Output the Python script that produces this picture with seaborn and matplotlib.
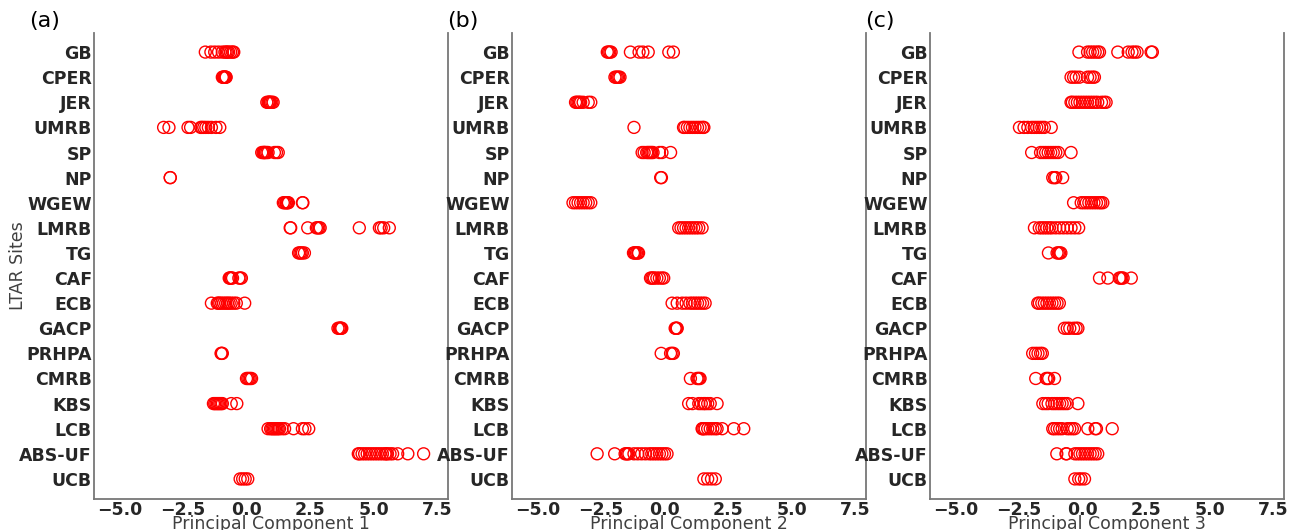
import matplotlib
matplotlib.use("Agg")
import matplotlib.pyplot as plt
import seaborn as sns
import pandas as pd

sites = ["GB", "CPER", "JER", "UMRB", "SP", "NP", "WGEW", "LMRB", "TG", "CAF",
         "ECB", "GACP", "PRHPA", "CMRB", "KBS", "LCB", "ABS-UF", "UCB"]

pc1_values = [
    [-1.62, -1.4, -1.25, -1.1, -0.95, -0.85, -0.8, -0.75, -0.7, -0.62, -0.55, -0.5],
    [-0.95, -0.92, -0.9, -0.88, -0.86, -0.84, -0.82, -0.8],
    [0.8, 0.85, 0.88, 0.9, 0.92, 0.95, 1.0, 1.05],
    [-3.26, -3.05, -2.3, -2.2, -1.8, -1.75, -1.68, -1.6, -1.5, -1.38, -1.2, -1.05],
    [0.6, 0.65, 0.68, 0.7, 0.72, 0.75, 0.8, 0.85, 1.1, 1.18, 1.25],
    [-3.0, -3.0],
    [1.45, 1.5, 1.55, 1.58, 1.62, 1.65, 2.2, 2.22],
    [1.72, 1.74, 2.41, 2.75, 2.8, 2.85, 2.9, 4.44, 5.23, 5.3, 5.4, 5.62],
    [2.05, 2.1, 2.15, 2.2, 2.28],
    [-0.68, -0.65, -0.62, -0.6, -0.55, -0.3, -0.25, -0.2],
    [-1.38, -1.15, -1.1, -1.05, -0.98, -0.9, -0.82, -0.75, -0.68, -0.6, -0.5, -0.4, -0.07],
    [3.6, 3.65, 3.68, 3.7, 3.72, 3.75],
    [-1.0, -0.98, -0.95],
    [0.0, 0.05, 0.1, 0.15, 0.2],
    [-1.3, -1.25, -1.2, -1.15, -1.1, -1.05, -1.0, -0.95, -0.6, -0.38],
    [0.85, 0.95, 1.0, 1.05, 1.1, 1.15, 1.2, 1.25, 1.3, 1.4, 1.5, 1.85, 2.2, 2.3, 2.45],
    [4.4, 4.45, 4.55, 4.65, 4.75, 4.85, 4.95, 5.05, 5.15, 5.25, 5.35, 5.45, 5.5, 5.55,
     5.65, 5.75, 5.95, 6.35, 6.97],
    [-0.25, -0.15, -0.05, 0.05],
]

pc2_values = [
    [-2.25, -2.2, -2.15, -2.1, -1.34, -1.0, -0.85, -0.64, 0.17, 0.35],
    [-1.95, -1.9, -1.85, -1.8, -1.75],
    [-3.5, -3.45, -3.4, -3.35, -3.3, -3.2, -3.0, -2.9],
    [-1.2, 0.75, 0.8, 0.9, 1.0, 1.1, 1.2, 1.3, 1.4, 1.5, 1.55],
    [-0.88, -0.8, -0.7, -0.65, -0.6, -0.55, -0.5, -0.45, -0.2, -0.1, 0.24],
    [-0.15, -0.12],
    [-3.6, -3.5, -3.4, -3.3, -3.2, -3.1, -3.0, -2.9],
    [0.56, 0.65, 0.75, 0.85, 0.95, 1.05, 1.15, 1.25, 1.35, 1.48],
    [-1.22, -1.18, -1.15, -1.1, -1.05, -1.02],
    [-0.55, -0.5, -0.45, -0.4, -0.3, -0.2, -0.1, -0.03],
    [0.3, 0.5, 0.7, 0.85, 1.0, 1.1, 1.2, 1.3, 1.4, 1.5, 1.6],
    [0.42, 0.45, 0.48, 0.5],
    [-0.13, 0.24, 0.3, 0.35],
    [1.02, 1.28, 1.32, 1.36, 1.4],
    [0.95, 1.1, 1.35, 1.45, 1.55, 1.6, 1.7, 1.8, 2.07],
    [1.48, 1.5, 1.55, 1.6, 1.7, 1.8, 1.9, 2.0, 2.07, 2.27, 2.73, 3.12],
    [-2.65, -1.96, -1.55, -1.5, -1.45, -1.4, -1.2, -1.05, -0.9, -0.75, -0.6, -0.5,
     -0.4, -0.3, -0.2, -0.1, 0.0, 0.1],
    [1.55, 1.7, 1.85, 2.0],
]

pc3_values = [
    [-0.14, 0.2, 0.3, 0.4, 0.5, 0.6, 0.67, 1.39, 1.8, 1.95, 2.05, 2.15, 2.7, 2.75],
    [-0.45, -0.35, -0.25, -0.12, 0.2, 0.3, 0.4, 0.47],
    [-0.45, -0.4, -0.3, -0.2, -0.1, 0.0, 0.1, 0.2, 0.3, 0.4, 0.5, 0.6, 0.75, 0.85, 0.93],
    [-2.48, -2.3, -2.15, -2.0, -1.9, -1.8, -1.7, -1.6, -1.5, -1.23],
    [-2.0, -1.65, -1.55, -1.45, -1.35, -1.25, -1.15, -1.05, -0.95, -0.45],
    [-1.17, -1.1, -1.05, -0.78],
    [-0.35, -0.05, 0.05, 0.15, 0.25, 0.35, 0.45, 0.55, 0.65, 0.72, 0.8],
    [-1.89, -1.7, -1.6, -1.5, -1.4, -1.3, -1.2, -1.05, -0.9, -0.75, -0.6, -0.45, -0.3, -0.15],
    [-1.34, -1.0, -0.95, -0.9, -0.85],
    [0.67, 1.0, 1.45, 1.5, 1.55, 1.6, 1.92],
    [-1.76, -1.7, -1.6, -1.5, -1.4, -1.3, -1.2, -1.1, -1.0, -0.91],
    [-0.71, -0.6, -0.5, -0.35, -0.25, -0.18],
    [-1.96, -1.85, -1.75, -1.65, -1.58],
    [-1.84, -1.43, -1.38, -1.33, -1.1],
    [-1.56, -1.45, -1.35, -1.2, -1.1, -1.0, -0.9, -0.8, -0.7, -0.6, -0.18],
    [-1.17, -1.1, -1.0, -0.9, -0.8, -0.6, -0.5, -0.4, -0.31, 0.21, 0.5, 0.55, 1.17],
    [-1.01, -0.65, -0.62, -0.3, -0.2, -0.1, 0.0, 0.1, 0.2, 0.3, 0.4, 0.5, 0.6],
    [-0.3, -0.15, -0.05, 0.08],
]

x_labels = ["Principal Component 1", "Principal Component 2", "Principal Component 3"]
panel_labels = ["(a)", "(b)", "(c)"]
x_ticks = [-5.0, -2.5, 0.0, 2.5, 5.0, 7.5]

sns.set_theme(style="white")
plt.rcParams["font.family"] = ["DejaVu Sans"]

W, H = 1293, 530
fig = plt.figure(figsize=(W / 100, H / 100), dpi=100)

lefts = [94, 512, 930]
ax_w = 354
top_px, bot_px = 33, 499

all_values = [pc1_values, pc2_values, pc3_values]
for i, vals in enumerate(all_values):
    rows = []
    for s, v in zip(sites, vals):
        for x in v:
            rows.append((s, x))
    df = pd.DataFrame(rows, columns=["site", "value"])
    ax = fig.add_axes([lefts[i] / W, (H - bot_px) / H, ax_w / W, (bot_px - top_px) / H])
    sns.stripplot(data=df, x="value", y="site", order=sites, jitter=False,
                  color="red", size=8.6, linewidth=1.0, ax=ax, orient="h")
    for coll in ax.collections:
        coll.set_facecolor("none")
        coll.set_edgecolor("red")
        coll.set_linewidth(1.0)
    ax.set_xlim(-6.0, 7.93)
    ax.set_ylim(17.8, -0.76)
    ax.set_xticks(x_ticks)
    ax.set_xticklabels([f"{t:.1f}".replace("-", "\u2212") for t in x_ticks],
                       fontweight="bold", fontsize=12.5, color="#262626")
    ax.set_yticks(range(len(sites)))
    ax.set_yticklabels(sites, fontweight="bold", fontsize=12.5, color="#262626")
    ax.tick_params(axis="both", length=0, pad=1.5)
    ax.set_xlabel(x_labels[i], fontsize=12.5, color="#404040", labelpad=-3)
    if i == 0:
        ax.set_ylabel("LTAR Sites", fontsize=12.5, color="#404040")
        ax.yaxis.set_label_coords((27 - lefts[i]) / ax_w, 0.5)
    else:
        ax.set_ylabel("")
    ax.spines["top"].set_visible(False)
    for sp in ["left", "right", "bottom"]:
        ax.spines[sp].set_color("#777777")
        ax.spines[sp].set_linewidth(1.3)
    fig.text((lefts[i] - 65) / W, 1 - 11 / H, panel_labels[i], fontsize=16,
             color="black", ha="left", va="top")

fig.savefig("out.png", dpi=100)
